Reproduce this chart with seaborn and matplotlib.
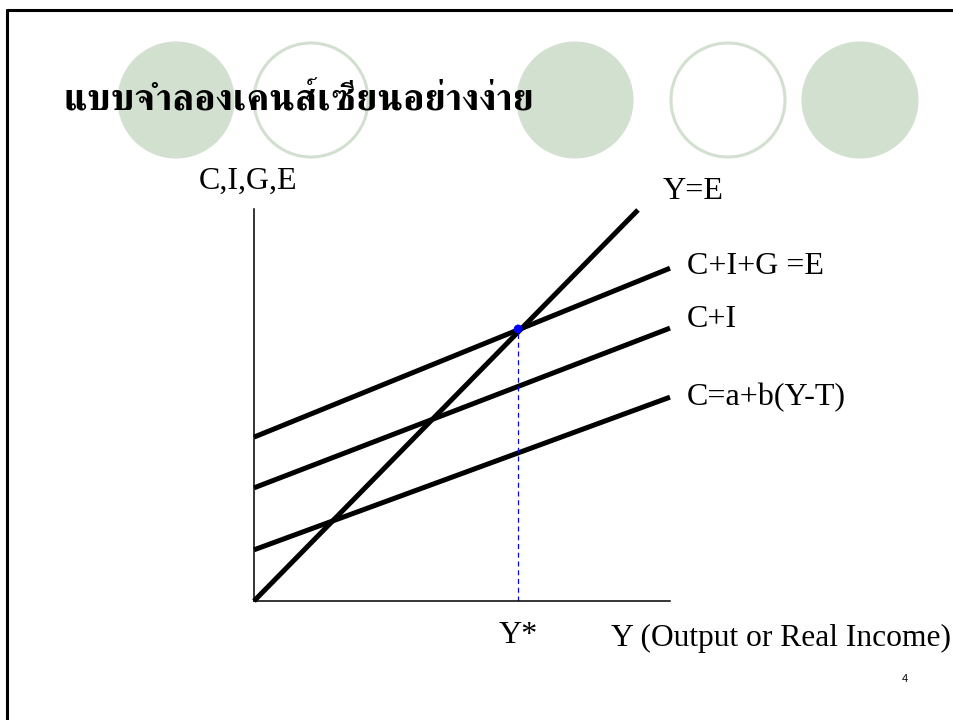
import matplotlib
matplotlib.use("Agg")
import matplotlib.pyplot as plt
from matplotlib.patches import Circle
import seaborn as sns
import pandas as pd

# --- data (chart units: x axis runs 0..10) ---
line_names = ["Y=E", "C+I+G =E", "C+I", "C=a+b(Y-T)"]
x_start = [0.0, 0.0, 0.0, 0.0]
y_start = [0.0, 3.94, 2.72, 1.23]
x_end = [9.23, 10.0, 10.0, 10.0]
y_end = [9.40, 8.00, 6.56, 4.90]
eq_x = [6.35]
eq_y = [6.54]
title = "แบบจำลองเคนส์เซียนอย่างง่าย"
y_axis_label = "C,I,G,E"
x_axis_label = "Y (Output or Real Income)"
eq_label = "Y*"
page_number = "4"

W, H = 954, 720
SERIF = ["Liberation Serif", "DejaVu Serif"]
LABEL_SIZE = 23
GREEN = "#d2e0d0"

sns.set_style("white")
plt.rcParams["text.color"] = "black"

fig = plt.figure(figsize=(W / 100, H / 100), dpi=100)

# slide decoration in pixel coordinates
deco = fig.add_axes([0, 0, 1, 1])
deco.set_xlim(0, W)
deco.set_ylim(H, 0)
deco.axis("off")
for cx, filled in [(176, True), (311, False), (575, True), (728, False), (860, True)]:
    deco.add_patch(Circle((cx, 100), 57, facecolor=GREEN if filled else "white",
                          edgecolor=GREEN, lw=2.2))
deco.plot([7, W], [10, 10], color="black", lw=2.2)
deco.plot([7, 7], [10, H], color="black", lw=2.2)
deco.text(63, 101, title, fontsize=27.5, fontweight="bold", va="center", ha="left",
          family=["FreeSerif", "DejaVu Sans"])

# the diagram itself
ax = fig.add_axes([254 / W, (H - 601) / H, 416 / W, 392 / H])
ax.patch.set_alpha(0)
df = pd.DataFrame({
    "name": line_names * 2,
    "x": x_start + x_end,
    "y": y_start + y_end,
})
sns.lineplot(data=df, x="x", y="y", units="name", estimator=None, color="black",
             lw=3.6, solid_capstyle="butt", ax=ax, legend=False)
for line in ax.lines:
    line.set_clip_on(False)
ax.set_xlim(0, 10)
ax.set_ylim(0, 392 / 41.6)
ax.set_xticks([])
ax.set_yticks([])
ax.set_xlabel("")
ax.set_ylabel("")
sns.despine(ax=ax)
for s in ["left", "bottom"]:
    ax.spines[s].set_linewidth(1.1)
    ax.spines[s].set_color("black")

ax.plot([eq_x[0], eq_x[0]], [0, eq_y[0]], color="blue", lw=0.9, ls=(0, (4, 3)))
sns.scatterplot(x=eq_x, y=eq_y, color="blue", s=40, edgecolor="none", zorder=5, ax=ax)

offsets = [(18, 13), (12, 1), (12, 6), (12, 0)]
for name, xe, ye, off in zip(line_names, x_end, y_end, offsets):
    ax.annotate(name, (xe, ye), xytext=off, textcoords="offset points",
                ha="left", va="center", fontsize=LABEL_SIZE, family=SERIF,
                annotation_clip=False)

ax.annotate(y_axis_label, (0, 392 / 41.6), xytext=(-40, 20), textcoords="offset points",
            ha="left", va="center", fontsize=LABEL_SIZE, family=SERIF, annotation_clip=False)
ax.annotate(eq_label, (eq_x[0], 0), xytext=(0, -25), textcoords="offset points",
            ha="center", va="center", fontsize=LABEL_SIZE, family=SERIF, annotation_clip=False)
fig.text(611 / W, 1 - 638 / H, x_axis_label, ha="left", va="center",
         fontsize=22.7, family=SERIF)
fig.text(905 / W, 1 - 679 / H, page_number, ha="center", va="center", fontsize=8,
         family="Liberation Sans")

fig.savefig("out.png", dpi=100)
